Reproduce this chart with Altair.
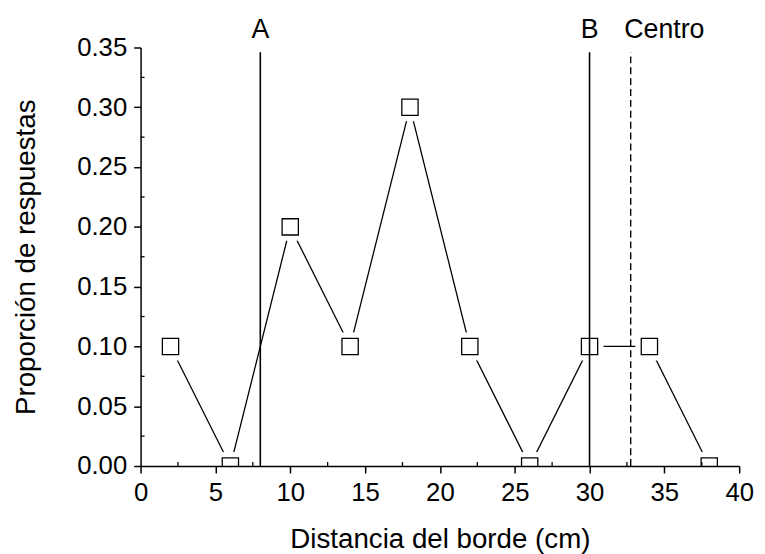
import altair as alt
import pandas as pd

# ---- data ----
dist = [2, 6, 10, 14, 18, 22, 26, 30, 34, 38]
prop = [0.10, 0.00, 0.20, 0.10, 0.30, 0.10, 0.00, 0.10, 0.10, 0.00]

solid_x = [8, 30]          # lines A and B
centro_x = [32.75]         # dashed "Centro" line
label_x = [8, 30, 35]
label_text = ["A", "B", "Centro"]

x_ticks = [0, 5, 10, 15, 20, 25, 30, 35, 40]
x_minor = [2.5, 7.5, 12.5, 17.5, 22.5, 27.5, 32.5, 37.5]
y_ticks = [0.00, 0.05, 0.10, 0.15, 0.20, 0.25, 0.30, 0.35]
y_minor = [0.025, 0.075, 0.125, 0.175, 0.225, 0.275, 0.325]

W, H = 605, 423
FONT = "Liberation Sans"
RULE_TOP = 0.346
LABEL_Y = 0.358

xs = alt.Scale(domain=[0, 40], nice=False, zero=False)
ys = alt.Scale(domain=[0, 0.35], nice=False, zero=False)

xaxis = alt.Axis(values=x_ticks, format="d", title="Distancia del borde (cm)", grid=False,
                 tickSize=7, tickWidth=1.5, tickColor="black", domainWidth=1.5, domainColor="black",
                 labelFont=FONT, labelFontSize=26, labelColor="black", labelBaseline="alphabetic",
                 labelPadding=28, labelFlush=False,
                 titleFont=FONT, titleFontSize=28, titleFontWeight="normal", titleColor="black",
                 titleBaseline="alphabetic", titleY=82, titleX=W / 2, zindex=1)
yaxis = alt.Axis(values=y_ticks, format=".2f", title="Proporción de respuestas", grid=False,
                 tickSize=7, tickWidth=1.5, tickColor="black", domainWidth=1.5, domainColor="black",
                 labelFont=FONT, labelFontSize=26, labelColor="black", labelPadding=7, labelFlush=False,
                 titleFont=FONT, titleFontSize=28, titleFontWeight="normal", titleColor="black",
                 titleBaseline="alphabetic", titleX=-107, titleY=H / 2, titleAngle=-90, zindex=1)

df = pd.DataFrame({"x": dist, "y": prop})
df_solid = pd.DataFrame({"x": solid_x, "y": [0.0] * len(solid_x), "y2": [RULE_TOP] * len(solid_x)})
df_centro = pd.DataFrame({"x": centro_x, "y": [0.0] * len(centro_x), "y2": [RULE_TOP] * len(centro_x)})
df_lab = pd.DataFrame({"x": label_x, "t": label_text})
df_xm = pd.DataFrame({"x": x_minor})
df_ym = pd.DataFrame({"y": y_minor})

X = alt.X("x:Q", scale=xs, axis=xaxis)
Y = alt.Y("y:Q", scale=ys, axis=yaxis)

line = alt.Chart(df).mark_line(color="black", strokeWidth=1.3).encode(x=X, y=Y)

halo = alt.Chart(df).mark_point(shape="square", filled=True, fill="white", opacity=1,
                                 size=800, strokeWidth=0, clip=True).encode(x=X, y=Y)

solid = alt.Chart(df_solid).mark_rule(color="black", strokeWidth=1.6).encode(
    x=X, y=Y, y2="y2:Q")
centro = alt.Chart(df_centro).mark_rule(color="black", strokeWidth=1.4, strokeDash=[7, 4]).encode(
    x=X, y=Y, y2="y2:Q")

squares = alt.Chart(df).mark_point(shape="square", filled=False, color="black", opacity=1,
                                    size=270, strokeWidth=1.3, clip=True).encode(x=X, y=Y)

xminor = alt.Chart(df_xm).mark_rule(color="black", strokeWidth=1.3).encode(
    x=X, y=alt.value(H), y2=alt.value(H - 4))
yminor = alt.Chart(df_ym).mark_rule(color="black", strokeWidth=1.3).encode(
    y=Y, x=alt.value(0), x2=alt.value(4))

labels = alt.Chart(df_lab).mark_text(font=FONT, fontSize=27, color="black",
                                     baseline="alphabetic", align="center").encode(
    x=X, y=alt.datum(LABEL_Y), text="t:N")

chart = alt.layer(line, halo, solid, centro, squares, xminor, yminor, labels).properties(
    width=W, height=H,
    padding={"left": 134, "top": 37, "right": 18, "bottom": 86},
    autosize=alt.AutoSizeParams(type="none"),
).configure_view(stroke=None)

chart.save("out.html", embed_options={"renderer": "svg", "actions": False})
